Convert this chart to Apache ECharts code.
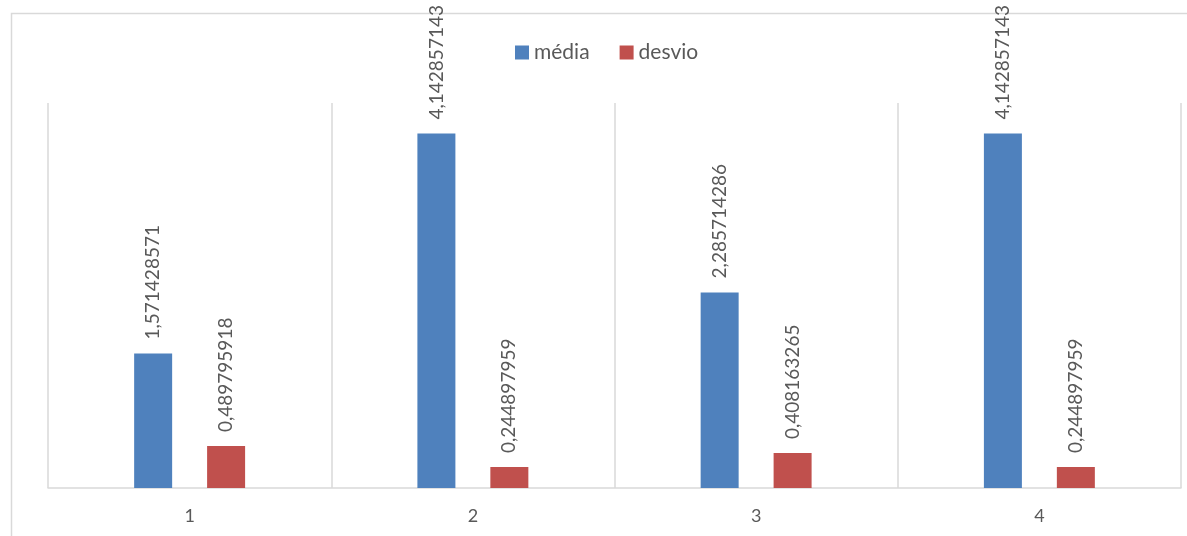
<!DOCTYPE html>
<html>
<head>
<meta charset="utf-8">
<script src="https://cdn.jsdelivr.net/npm/echarts@6/dist/echarts.min.js"></script>
<style>
  html, body { margin: 0; padding: 0; background: #fff; }
  #chart { width: 1187px; height: 536px; }
</style>
</head>
<body>
<div id="chart"></div>
<script>
// categorias e séries
const categories = ['1', '2', '3', '4'];
const mediaValues = [1.571428571, 4.142857143, 2.285714286, 4.142857143];
const desvioValues = [0.489795918, 0.244897959, 0.408163265, 0.244897959];
const mediaLabels = ['1,571428571', '4,142857143', '2,285714286', '4,142857143'];
const desvioLabels = ['0,489795918', '0,244897959', '0,408163265', '0,244897959'];

const textColor = '#595959';
const lineColor = '#d9d9d9';
const fontFamily = 'Lato, "Open Sans", sans-serif';

const chart = echarts.init(document.getElementById('chart'));

// rótulo girado 90°, acima da barra
function barLabel(texts) {
  return {
    show: true,
    position: 'top',
    rotate: 90,
    align: 'left',
    verticalAlign: 'middle',
    distance: 14,
    color: textColor,
    fontSize: 19,
    fontFamily,
    formatter: (p) => texts[p.dataIndex],
  };
}

const option = {
  animation: false,
  textStyle: { fontFamily },
  // borda externa do gráfico
  graphic: [
    {
      type: 'rect',
      left: 9,
      top: 11,
      shape: { width: 1300, height: 700 },
      style: { fill: 'none', stroke: lineColor, lineWidth: 1.5 },
      silent: true,
      z: -1,
    },
  ],
  legend: {
    left: 510,
    top: 37,
    itemWidth: 14,
    itemHeight: 14,
    itemGap: 30,
    icon: 'rect',
    textStyle: { color: textColor, fontSize: 21, fontFamily },
  },
  grid: {
    left: 48,
    right: 6,
    top: 103,
    bottom: 48,
  },
  xAxis: {
    type: 'category',
    data: categories,
    axisLine: { lineStyle: { color: lineColor, width: 1.5 } },
    axisTick: { show: false },
    axisLabel: { color: textColor, fontSize: 18, margin: 19, fontFamily },
    splitLine: { show: true, lineStyle: { color: lineColor, width: 1.5 } },
  },
  yAxis: {
    type: 'value',
    min: 0,
    max: 4.5,
    show: false,
    splitLine: { show: false },
  },
  series: [
    {
      name: 'média',
      type: 'bar',
      data: mediaValues,
      barWidth: 38,
      barGap: '92%',
      itemStyle: { color: '#4f81bd' },
      label: barLabel(mediaLabels),
    },
    {
      name: 'desvio',
      type: 'bar',
      data: desvioValues,
      barWidth: 38,
      barGap: '92%',
      itemStyle: { color: '#c0504d' },
      label: barLabel(desvioLabels),
    },
  ],
};

chart.setOption(option);
</script>
</body>
</html>
